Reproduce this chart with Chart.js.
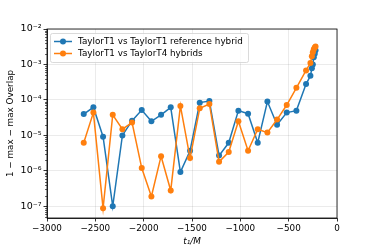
<!DOCTYPE html>
<html>
<head>
<meta charset="utf-8">
<script src="https://cdn.jsdelivr.net/npm/chart.js@4.4.0/dist/chart.umd.min.js"></script>
<style>
  html, body { margin: 0; padding: 0; background: #fff; }
  #wrap { width: 374px; height: 249px; }
</style>
</head>
<body>
<div id="wrap"><canvas id="overlapChart" width="374" height="249"></canvas></div>
<script>
// t1/M of each hybrid
const t1 = [-2620, -2520, -2420, -2320, -2220, -2120, -2020, -1920, -1820, -1720,
  -1620, -1520, -1420, -1320, -1220, -1120, -1020, -920, -820, -720,
  -620, -520, -420, -320, -275, -260, -250, -240, -230, -222];

const t1VsT1 = [4.0e-5, 6.2e-5, 9.2e-6, 1.0e-7, 1.0e-5, 2.6e-5, 5.2e-5, 2.5e-5, 3.8e-5, 6.2e-5,
  9.3e-7, 3.7e-6, 8.4e-5, 9.3e-5, 2.7e-6, 6.2e-6, 5.0e-5, 4.1e-5, 6.2e-6, 9.0e-5,
  2.0e-5, 4.4e-5, 5.0e-5, 2.8e-4, 4.8e-4, 7.8e-4, 1.0e-3, 1.6e-3, 2.0e-3, 2.5e-3];

const t1VsT4 = [6.2e-6, 4.4e-5, 8.8e-8, 3.8e-5, 1.5e-5, 2.3e-5, 1.2e-6, 1.9e-7, 2.6e-6, 2.8e-7,
  6.8e-5, 2.3e-6, 5.8e-5, 7.7e-5, 1.8e-6, 3.4e-6, 2.5e-5, 3.7e-6, 1.5e-5, 1.2e-5,
  2.8e-5, 7.2e-5, 2.2e-4, 6.8e-4, 1.1e-3, 1.7e-3, 2.2e-3, 2.7e-3, 3.0e-3, 3.2e-3];

const seriesLabels = ["TaylorT1 vs TaylorT1 reference hybrid", "TaylorT1 vs TaylorT4 hybrids"];
const xTicks = [-3000, -2500, -2000, -1500, -1000, -500, 0];
const yTicks = [1e-7, 1e-6, 1e-5, 1e-4, 1e-3, 1e-2];
const supers = { "-": "⁻", "0": "⁰", "1": "¹", "2": "²", "3": "³", "4": "⁴", "5": "⁵", "6": "⁶", "7": "⁷", "8": "⁸", "9": "⁹" };

const BLUE = "#1f77b4";
const ORANGE = "#ff7f0e";
const FONT = "'DejaVu Sans', sans-serif";
const FS = 8.8;

const toPoints = (ys) => ys.map((y, i) => ({ x: t1[i], y: y }));
const supLabel = (v) => "10" + String(Math.round(Math.log10(v))).split("").map((c) => supers[c]).join("");

// frame, minor log ticks and the in-axes legend (matplotlib style)
const decorations = {
  id: "decorations",
  afterDraw(chart) {
    const ctx = chart.ctx;
    const area = chart.chartArea;
    const yScale = chart.scales.y;
    ctx.save();
    ctx.strokeStyle = "#000";
    ctx.lineWidth = 0.8;
    ctx.strokeRect(area.left, area.top, area.right - area.left, area.bottom - area.top);

    ctx.lineWidth = 0.6;
    ctx.beginPath();
    for (let e = -8; e <= -3; e++) {
      for (let m = 2; m <= 9; m++) {
        const v = m * Math.pow(10, e);
        if (v < yScale.min || v > yScale.max) continue;
        const py = Math.round(yScale.getPixelForValue(v)) + 0.5;
        ctx.moveTo(area.left, py);
        ctx.lineTo(area.left - 2, py);
      }
    }
    ctx.stroke();

    // legend
    const bx = 50.5, by = 33.5, bw = 198, bh = 29;
    ctx.beginPath();
    ctx.roundRect(bx, by, bw, bh, 2);
    ctx.fillStyle = "rgba(255,255,255,0.8)";
    ctx.fill();
    ctx.strokeStyle = "#d0d0d0";
    ctx.lineWidth = 0.8;
    ctx.stroke();
    ctx.font = FS + "px " + FONT;
    ctx.textBaseline = "middle";
    chart.data.datasets.forEach((ds, i) => {
      const ly = 41.5 + i * 12;
      ctx.strokeStyle = ds.borderColor;
      ctx.lineWidth = 1.5;
      ctx.beginPath();
      ctx.moveTo(54, ly);
      ctx.lineTo(72, ly);
      ctx.stroke();
      ctx.fillStyle = ds.borderColor;
      ctx.beginPath();
      ctx.arc(63, ly, 3, 0, Math.PI * 2);
      ctx.fill();
      ctx.fillStyle = "#000";
      ctx.fillText(ds.label, 78, ly + 0.5);
    });
    ctx.restore();
  },
};

const ctx = document.getElementById("overlapChart").getContext("2d");
new Chart(ctx, {
  type: "scatter",
  data: {
    datasets: [
      {
        label: seriesLabels[0],
        data: toPoints(t1VsT1),
        showLine: true,
        borderColor: BLUE,
        backgroundColor: BLUE,
        borderWidth: 1.5,
        pointRadius: 3,
        pointBorderWidth: 0,
        order: 1,
      },
      {
        label: seriesLabels[1],
        data: toPoints(t1VsT4),
        showLine: true,
        borderColor: ORANGE,
        backgroundColor: ORANGE,
        borderWidth: 1.5,
        pointRadius: 3,
        pointBorderWidth: 0,
        order: 0,
      },
    ],
  },
  options: {
    responsive: false,
    animation: false,
    layout: { padding: { top: 29, right: 37, left: 0, bottom: 0 } },
    plugins: { legend: { display: false }, tooltip: { enabled: false } },
    scales: {
      x: {
        type: "linear",
        min: -3000,
        max: 0,
        afterBuildTicks: (scale) => { scale.ticks = xTicks.map((v) => ({ value: v })); },
        afterFit: (scale) => { scale.height = 31; },
        ticks: {
          color: "#000",
          font: { family: FONT, size: FS },
          padding: 2,
          maxRotation: 0,
          callback: (v) => (v < 0 ? "\u2212" + Math.abs(v) : String(v)),
        },
        grid: { color: "rgba(0,0,0,0.1)", lineWidth: 0.8, tickColor: "#000", tickLength: 3.5 },
        border: { color: "#000", width: 0.8 },
        title: {
          display: true,
          text: "t\u2081/M",
          color: "#000",
          font: { family: FONT, size: FS, style: "italic" },
          padding: { top: 0, bottom: 2 },
        },
      },
      y: {
        type: "logarithmic",
        min: 4.7e-8,
        max: 1e-2,
        afterBuildTicks: (scale) => { scale.ticks = yTicks.map((v) => ({ value: v })); },
        afterFit: (scale) => { scale.width = 47; },
        ticks: {
          color: "#000",
          font: { family: FONT, size: 9.5 },
          padding: 2,
          callback: (v) => supLabel(v),
        },
        grid: { color: "rgba(0,0,0,0.1)", lineWidth: 0.8, tickColor: "#000", tickLength: 3.5 },
        border: { color: "#000", width: 0.8 },
        title: {
          display: true,
          text: "1 \u2212 max \u2212 max Overlap",
          color: "#000",
          font: { family: FONT, size: FS },
          padding: { top: 5, bottom: 0 },
        },
      },
    },
  },
  plugins: [decorations],
});
</script>
</body>
</html>
